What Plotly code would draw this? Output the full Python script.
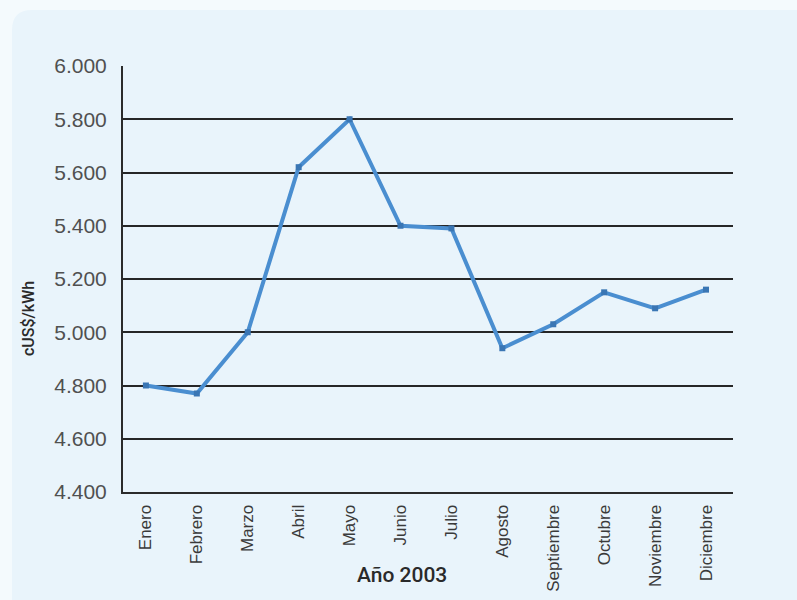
import plotly.graph_objects as go

# Monthly average cost, 2003
meses = ["Enero", "Febrero", "Marzo", "Abril", "Mayo", "Junio", "Julio",
         "Agosto", "Septiembre", "Octubre", "Noviembre", "Diciembre"]
costo = [4.80, 4.77, 5.00, 5.62, 5.80, 5.40, 5.39, 4.94, 5.03, 5.15, 5.09, 5.16]

y_ticks = [4.4, 4.6, 4.8, 5.0, 5.2, 5.4, 5.6, 5.8, 6.0]
y_tick_text = ["4.400", "4.600", "4.800", "5.000", "5.200", "5.400", "5.600", "5.800", "6.000"]
grid_vals = [4.6, 4.8, 5.0, 5.2, 5.4, 5.6, 5.8]

W, H = 797, 600
M_L, M_R, M_T, M_B = 123, 64, 66, 108
PW, PH = W - M_L - M_R, H - M_T - M_B


def px_to_paper(px, py):
    return (px - M_L) / PW, (H - M_B - py) / PH


fig = go.Figure()

fig.add_trace(go.Scatter(
    x=list(range(len(meses))), y=costo,
    mode="lines+markers",
    line=dict(color="#4a8ed0", width=4),
    marker=dict(symbol="square", size=6, color="#3a76b4"),
    hoverinfo="skip", showlegend=False,
))

# invisible trace that carries the gridline axis
fig.add_trace(go.Scatter(x=[0], y=[5.0], yaxis="y2", mode="markers",
                         marker=dict(opacity=0), hoverinfo="skip", showlegend=False))

# soft panel behind the chart with a rounded top-left corner
x0, y0 = px_to_paper(12, 10)
x1, y1 = px_to_paper(W + 5, H + 5)
xr, yr = px_to_paper(32, 30)
panel = (f"M {x0} {yr} Q {x0} {y0} {xr} {y0} L {x1} {y0} L {x1} {y1} "
         f"L {x0} {y1} Z")

tx, ty = px_to_paper(402, 575)
lx, ly = px_to_paper(28, 319)

title_font = "Roboto, Liberation Sans, Arial, sans-serif"

fig.update_layout(
    width=W, height=H,
    margin=dict(l=M_L, r=M_R, t=M_T, b=M_B),
    paper_bgcolor="#f4fafd",
    plot_bgcolor="rgba(0,0,0,0)",
    shapes=[dict(type="path", path=panel, xref="paper", yref="paper",
                 fillcolor="#e9f4fb", line=dict(width=0), layer="below")],
    xaxis=dict(
        range=[-0.45, 11.53], automargin=False,
        tickmode="array", tickvals=list(range(len(meses))), ticktext=meses,
        tickangle=-90, ticks="", ticklabelstandoff=4,
        tickfont=dict(family="Liberation Sans, Arial, sans-serif", size=17, color="#3a3a3a"),
        showgrid=False, zeroline=False,
        showline=True, linecolor="#2b2b2b", linewidth=2,
    ),
    yaxis=dict(
        range=[4.4, 6.0], automargin=False,
        tickmode="array", tickvals=y_ticks, ticktext=y_tick_text,
        ticks="", ticklabelstandoff=10,
        tickfont=dict(family="Liberation Sans, Arial, sans-serif", size=21, color="#505050"),
        showgrid=False, zeroline=False,
        showline=True, linecolor="#2b2b2b", linewidth=2,
    ),
    yaxis2=dict(
        range=[4.4, 6.0], overlaying="y", anchor="x", side="left", automargin=False,
        tickmode="array", tickvals=grid_vals, showticklabels=False, ticks="",
        showgrid=True, gridcolor="#262626", gridwidth=2, zeroline=False, showline=False,
    ),
    annotations=[
        dict(text="Año 2003", x=tx, y=ty, xref="paper", yref="paper",
             xanchor="center", yanchor="middle", showarrow=False,
             font=dict(family=title_font, size=21, color="#2a2a2a", weight=500)),
        dict(text="cUS$/kWh", x=lx, y=ly, xref="paper", yref="paper",
             xanchor="center", yanchor="middle", showarrow=False, textangle=-90,
             font=dict(family=title_font, size=16, color="#2a2a2a", weight=500)),
    ],
)

fig.write_html("out.html")
